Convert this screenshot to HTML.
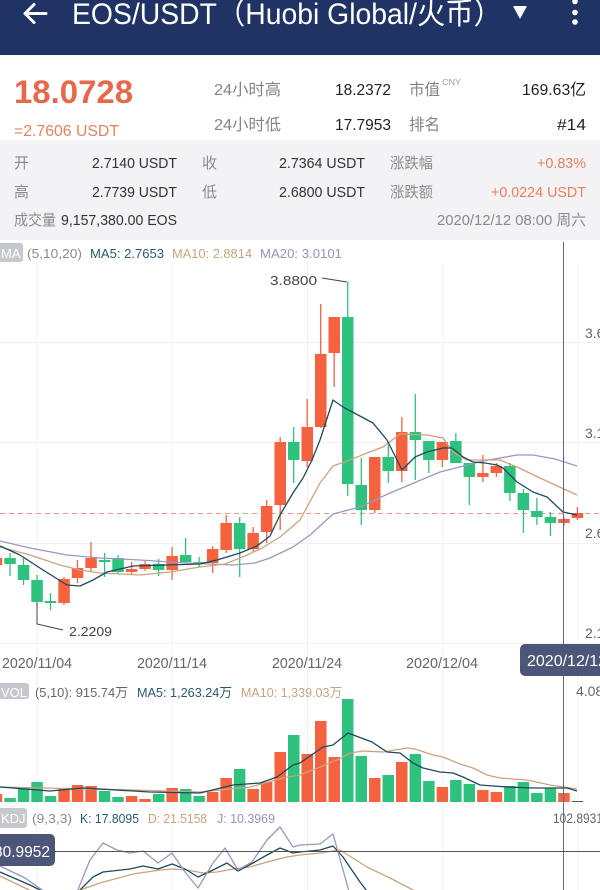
<!DOCTYPE html>
<html><head><meta charset="utf-8"><style>
html,body{margin:0;padding:0;background:#fff;}
svg{display:block;}
text{font-family:"Liberation Sans","Noto Sans CJK SC",sans-serif;}
</style></head><body>
<svg width="600" height="890" viewBox="0 0 600 890" xmlns="http://www.w3.org/2000/svg">
<!-- header -->
<rect x="0" y="0" width="600" height="55" fill="#1f3364"/>
<path d="M25 13.5 H46 M34 4.5 L25 13.5 L34 22.5" stroke="#fff" stroke-width="3" fill="none" stroke-linecap="round" stroke-linejoin="round"/>
<text x="72" y="24" font-size="30" fill="#fff" textLength="430" lengthAdjust="spacingAndGlyphs">EOS/USDT（Huobi Global/火币）</text>
<polygon points="513,6 527,6 520,19" fill="#fff"/>
<circle cx="575" cy="1.5" r="2.8" fill="#fff"/>
<circle cx="575" cy="12.5" r="2.8" fill="#fff"/>
<circle cx="575" cy="22" r="2.8" fill="#fff"/>

<!-- price block -->
<rect x="0" y="55" width="600" height="85" fill="#fff"/>
<text x="14" y="103" font-size="32" font-weight="bold" fill="#e6694b" textLength="119" lengthAdjust="spacingAndGlyphs">18.0728</text>
<text x="14" y="136" font-size="16" fill="#e8805f" textLength="105" lengthAdjust="spacingAndGlyphs">=2.7606 USDT</text>
<g font-size="16">
<text x="214" y="95" fill="#858585" textLength="67" lengthAdjust="spacingAndGlyphs">24小时高</text>
<text x="335" y="95" fill="#222" textLength="56" lengthAdjust="spacingAndGlyphs">18.2372</text>
<text x="409" y="95" fill="#858585" textLength="31" lengthAdjust="spacingAndGlyphs">市值</text>
<text x="522" y="95" fill="#222" textLength="64" lengthAdjust="spacingAndGlyphs">169.63亿</text>
<text x="214" y="130" fill="#858585" textLength="67" lengthAdjust="spacingAndGlyphs">24小时低</text>
<text x="335" y="130" fill="#222" textLength="56" lengthAdjust="spacingAndGlyphs">17.7953</text>
<text x="409" y="130" fill="#858585" textLength="31" lengthAdjust="spacingAndGlyphs">排名</text>
<text x="557" y="130" fill="#222" textLength="29" lengthAdjust="spacingAndGlyphs">#14</text>
</g>
<text x="442" y="85" font-size="8" fill="#999" textLength="19" lengthAdjust="spacingAndGlyphs">CNY</text>

<!-- gray block -->
<rect x="0" y="140" width="600" height="100" fill="#f3f3f5"/>
<g font-size="15">
<text x="14" y="168" fill="#8a8a8a">开</text>
<text x="92" y="168" fill="#333" textLength="85" lengthAdjust="spacingAndGlyphs">2.7140 USDT</text>
<text x="202" y="168" fill="#8a8a8a">收</text>
<text x="279" y="168" fill="#333" textLength="86" lengthAdjust="spacingAndGlyphs">2.7364 USDT</text>
<text x="390" y="168" fill="#8a8a8a" textLength="43" lengthAdjust="spacingAndGlyphs">涨跌幅</text>
<text x="537" y="168" fill="#e8805f" textLength="49" lengthAdjust="spacingAndGlyphs">+0.83%</text>
<text x="14" y="197" fill="#8a8a8a">高</text>
<text x="92" y="197" fill="#333" textLength="85" lengthAdjust="spacingAndGlyphs">2.7739 USDT</text>
<text x="202" y="197" fill="#8a8a8a">低</text>
<text x="279" y="197" fill="#333" textLength="86" lengthAdjust="spacingAndGlyphs">2.6800 USDT</text>
<text x="390" y="197" fill="#8a8a8a" textLength="43" lengthAdjust="spacingAndGlyphs">涨跌额</text>
<text x="491" y="197" fill="#e8805f" textLength="95" lengthAdjust="spacingAndGlyphs">+0.0224 USDT</text>
<text x="14" y="225" fill="#8a8a8a" textLength="42" lengthAdjust="spacingAndGlyphs">成交量</text>
<text x="61" y="225" fill="#333" textLength="116" lengthAdjust="spacingAndGlyphs">9,157,380.00 EOS</text>
<text x="437" y="225" fill="#8a8a8a" textLength="149" lengthAdjust="spacingAndGlyphs">2020/12/12 08:00 周六</text>
</g>

<!-- grids -->
<g stroke="#f0f0f0" stroke-width="1">
<line x1="37" y1="263" x2="37" y2="890"/>
<line x1="172" y1="263" x2="172" y2="890"/>
<line x1="307.5" y1="263" x2="307.5" y2="890"/>
<line x1="443" y1="263" x2="443" y2="890"/>
<line x1="578" y1="263" x2="578" y2="890"/>
<line x1="0" y1="342.5" x2="600" y2="342.5"/>
<line x1="0" y1="442.5" x2="600" y2="442.5"/>
<line x1="0" y1="543.5" x2="600" y2="543.5"/>
<line x1="0" y1="643.5" x2="600" y2="643.5"/>
</g>

<!-- MA legend -->
<rect x="-4" y="243" width="27" height="19" rx="3" fill="#c6c8cd"/>
<text x="1" y="258" font-size="13" fill="#fff">MA</text>
<g font-size="13">
<text x="27" y="258" fill="#8a8a8a" textLength="55" lengthAdjust="spacingAndGlyphs">(5,10,20)</text>
<text x="90" y="258" fill="#2a5a6e" textLength="74" lengthAdjust="spacingAndGlyphs">MA5: 2.7653</text>
<text x="172" y="258" fill="#c9a37c" textLength="80" lengthAdjust="spacingAndGlyphs">MA10: 2.8814</text>
<text x="260" y="258" fill="#9593bd" textLength="82" lengthAdjust="spacingAndGlyphs">MA20: 3.0101</text>
</g>

<!-- right axis labels -->
<g font-size="14" fill="#666">
<text x="585" y="338">3.6283</text>
<text x="585" y="438">3.1283</text>
<text x="585" y="538">2.6283</text>
<text x="585" y="638">2.1283</text>
<text x="576" y="696">4.08</text>
<text x="553" y="823" textLength="50" lengthAdjust="spacingAndGlyphs">102.8931</text>
</g>

<!-- date labels -->
<g font-size="15" fill="#666">
<text x="2" y="668" textLength="70" lengthAdjust="spacingAndGlyphs">2020/11/04</text>
<text x="137" y="668" textLength="70" lengthAdjust="spacingAndGlyphs">2020/11/14</text>
<text x="272" y="668" textLength="70" lengthAdjust="spacingAndGlyphs">2020/11/24</text>
<text x="406" y="668" textLength="72" lengthAdjust="spacingAndGlyphs">2020/12/04</text>
</g>

<!-- dashed current price -->
<line x1="0" y1="513.5" x2="600" y2="513.5" stroke="#e9977f" stroke-width="1" stroke-dasharray="5,4"/>

<!-- candles -->
<g id="candles">
<!-- wicks -->
<g stroke-width="1.3">
<line x1="-3.5" y1="555" x2="-3.5" y2="568" stroke="#f4623f"/>
<line x1="10" y1="553" x2="10" y2="576" stroke="#2ec27e"/>
<line x1="23.5" y1="558" x2="23.5" y2="585" stroke="#2ec27e"/>
<line x1="37" y1="575" x2="37" y2="605" stroke="#2ec27e"/>
<line x1="50.5" y1="593" x2="50.5" y2="610" stroke="#2ec27e"/>
<line x1="64" y1="577" x2="64" y2="605" stroke="#f4623f"/>
<line x1="77.5" y1="560" x2="77.5" y2="583" stroke="#f4623f"/>
<line x1="91" y1="542" x2="91" y2="572" stroke="#f4623f"/>
<line x1="104.6" y1="553" x2="104.6" y2="577" stroke="#2ec27e"/>
<line x1="118.1" y1="555" x2="118.1" y2="574" stroke="#2ec27e"/>
<line x1="131.6" y1="562" x2="131.6" y2="575" stroke="#f4623f"/>
<line x1="145.1" y1="561" x2="145.1" y2="571" stroke="#f4623f"/>
<line x1="158.6" y1="559" x2="158.6" y2="576" stroke="#2ec27e"/>
<line x1="172.1" y1="547" x2="172.1" y2="580" stroke="#f4623f"/>
<line x1="185.6" y1="538" x2="185.6" y2="562" stroke="#2ec27e"/>
<line x1="199.1" y1="557" x2="199.1" y2="567" stroke="#2ec27e"/>
<line x1="212.7" y1="546" x2="212.7" y2="573" stroke="#f4623f"/>
<line x1="226.2" y1="515" x2="226.2" y2="553" stroke="#f4623f"/>
<line x1="239.7" y1="517" x2="239.7" y2="577" stroke="#2ec27e"/>
<line x1="253.2" y1="527" x2="253.2" y2="552" stroke="#f4623f"/>
<line x1="266.7" y1="500" x2="266.7" y2="543" stroke="#f4623f"/>
<line x1="280.2" y1="437" x2="280.2" y2="530" stroke="#f4623f"/>
<line x1="293.7" y1="427" x2="293.7" y2="483" stroke="#2ec27e"/>
<line x1="307.2" y1="399" x2="307.2" y2="467" stroke="#f4623f"/>
<line x1="320.7" y1="304" x2="320.7" y2="428" stroke="#f4623f"/>
<line x1="334.2" y1="317" x2="334.2" y2="387" stroke="#f4623f"/>
<line x1="347.7" y1="282" x2="347.7" y2="496" stroke="#2ec27e"/>
<line x1="361.3" y1="458" x2="361.3" y2="525" stroke="#2ec27e"/>
<line x1="374.8" y1="457" x2="374.8" y2="513" stroke="#f4623f"/>
<line x1="388.3" y1="445" x2="388.3" y2="483" stroke="#2ec27e"/>
<line x1="401.8" y1="417" x2="401.8" y2="482" stroke="#f4623f"/>
<line x1="415.3" y1="394" x2="415.3" y2="480" stroke="#2ec27e"/>
<line x1="428.8" y1="441" x2="428.8" y2="473" stroke="#2ec27e"/>
<line x1="442.3" y1="442" x2="442.3" y2="467" stroke="#f4623f"/>
<line x1="455.8" y1="433" x2="455.8" y2="463" stroke="#2ec27e"/>
<line x1="469.3" y1="463" x2="469.3" y2="505" stroke="#2ec27e"/>
<line x1="482.9" y1="455" x2="482.9" y2="482" stroke="#f4623f"/>
<line x1="496.4" y1="463" x2="496.4" y2="477" stroke="#f4623f"/>
<line x1="509.9" y1="463" x2="509.9" y2="501" stroke="#2ec27e"/>
<line x1="523.4" y1="489" x2="523.4" y2="533" stroke="#2ec27e"/>
<line x1="536.9" y1="498" x2="536.9" y2="525" stroke="#2ec27e"/>
<line x1="550.4" y1="512" x2="550.4" y2="536" stroke="#2ec27e"/>
<line x1="563.9" y1="517" x2="563.9" y2="526" stroke="#f4623f"/>
<line x1="577.4" y1="507" x2="577.4" y2="520" stroke="#f4623f"/>
</g>
<!-- bodies -->
<rect x="-9.3" y="558" width="11.5" height="7" fill="#f4623f"/>
<rect x="4.3" y="558" width="11.5" height="6" fill="#2ec27e"/>
<rect x="17.8" y="565" width="11.5" height="15" fill="#2ec27e"/>
<rect x="31.3" y="580" width="11.5" height="22" fill="#2ec27e"/>
<rect x="44.8" y="601" width="11.5" height="2" fill="#2ec27e"/>
<rect x="58.3" y="579" width="11.5" height="24" fill="#f4623f"/>
<rect x="71.8" y="568" width="11.5" height="10" fill="#f4623f"/>
<rect x="85.3" y="558" width="11.5" height="10" fill="#f4623f"/>
<rect x="98.8" y="560" width="11.5" height="2" fill="#2ec27e"/>
<rect x="112.3" y="558" width="11.5" height="14" fill="#2ec27e"/>
<rect x="125.8" y="569" width="11.5" height="3" fill="#f4623f"/>
<rect x="139.3" y="564" width="11.5" height="5" fill="#f4623f"/>
<rect x="152.9" y="564" width="11.5" height="6" fill="#2ec27e"/>
<rect x="166.4" y="556" width="11.5" height="14" fill="#f4623f"/>
<rect x="179.9" y="555" width="11.5" height="7" fill="#2ec27e"/>
<rect x="193.4" y="562" width="11.5" height="1.5" fill="#2ec27e"/>
<rect x="206.9" y="549" width="11.5" height="14" fill="#f4623f"/>
<rect x="220.4" y="523" width="11.5" height="27" fill="#f4623f"/>
<rect x="233.9" y="523" width="11.5" height="26" fill="#2ec27e"/>
<rect x="247.4" y="533" width="11.5" height="16" fill="#f4623f"/>
<rect x="260.9" y="506" width="11.5" height="26" fill="#f4623f"/>
<rect x="274.5" y="442" width="11.5" height="63" fill="#f4623f"/>
<rect x="288" y="442" width="11.5" height="18" fill="#2ec27e"/>
<rect x="301.5" y="427" width="11.5" height="34" fill="#f4623f"/>
<rect x="315" y="354" width="11.5" height="73" fill="#f4623f"/>
<rect x="328.5" y="317" width="11.5" height="36" fill="#f4623f"/>
<rect x="342" y="317" width="11.5" height="167" fill="#2ec27e"/>
<rect x="355.5" y="485" width="11.5" height="25" fill="#2ec27e"/>
<rect x="369" y="457" width="11.5" height="53" fill="#f4623f"/>
<rect x="382.5" y="457" width="11.5" height="14" fill="#2ec27e"/>
<rect x="396" y="432" width="11.5" height="39" fill="#f4623f"/>
<rect x="409.6" y="432" width="11.5" height="8" fill="#2ec27e"/>
<rect x="423.1" y="441" width="11.5" height="19" fill="#2ec27e"/>
<rect x="436.6" y="442" width="11.5" height="18" fill="#f4623f"/>
<rect x="450.1" y="441" width="11.5" height="22" fill="#2ec27e"/>
<rect x="463.6" y="463" width="11.5" height="14" fill="#2ec27e"/>
<rect x="477.1" y="473" width="11.5" height="4" fill="#f4623f"/>
<rect x="490.6" y="466" width="11.5" height="7" fill="#f4623f"/>
<rect x="504.1" y="466" width="11.5" height="27" fill="#2ec27e"/>
<rect x="517.6" y="493" width="11.5" height="17" fill="#2ec27e"/>
<rect x="531.1" y="511" width="11.5" height="6" fill="#2ec27e"/>
<rect x="544.7" y="517" width="11.5" height="6" fill="#2ec27e"/>
<rect x="558.2" y="519" width="11.5" height="4" fill="#f4623f"/>
<rect x="571.7" y="513" width="11.5" height="5" fill="#f4623f"/>
</g>

<!-- MA lines -->
<g fill="none" stroke-width="1.3" stroke-linejoin="round">
<polyline stroke="#9a98c0" points="0,541 30,548 67,555 100,558 140,560 187,563 233,565 255,563 270,558 293,547 310,535 333,514 360,507 390,493 440,472 483,461 517,455 533,455 555,459 577,466"/>
<polyline stroke="#c9a37c" points="0,547 30,555 60,565 80,570 100,573 140,575 170,572 200,567 225,564 245,556 262,548 280,537 300,520 320,483 333,466 350,460 367,453 383,447 400,434 427,435 443,438 453,452 467,460 500,460 517,467 540,478 577,495"/>
<polyline stroke="#1d4a5c" points="0,546 20,555 43,570 67,585 80,586 93,580 107,572 133,566 167,565 200,564 217,560 240,553 257,546 270,536 280,515 293,493 303,478 312,460 320,440 333,400 343,407 373,423 387,440 402,470 415,457 427,452 443,448 452,448 463,457 473,462 485,463 497,465 503,468 517,482 533,492 547,497 563,512 577,515"/>
</g>

<!-- max / min labels -->
<polyline points="322,278 347,282" fill="none" stroke="#444" stroke-width="1"/>
<text x="270" y="285" font-size="13" fill="#444" textLength="47" lengthAdjust="spacingAndGlyphs">3.8800</text>
<polyline points="37,603 37,624 63,630" fill="none" stroke="#444" stroke-width="1"/>
<text x="69" y="636" font-size="13" fill="#444" textLength="43" lengthAdjust="spacingAndGlyphs">2.2209</text>

<!-- VOL legend -->
<rect x="-4" y="683" width="33" height="16" rx="3" fill="#c6c8cd"/>
<text x="1" y="697" font-size="13" fill="#fff">VOL</text>
<g font-size="13">
<text x="35" y="697" fill="#666" textLength="93" lengthAdjust="spacingAndGlyphs">(5,10): 915.74万</text>
<text x="137" y="697" fill="#2a5a6e" textLength="95" lengthAdjust="spacingAndGlyphs">MA5: 1,263.24万</text>
<text x="241" y="697" fill="#c9a37c" textLength="101" lengthAdjust="spacingAndGlyphs">MA10: 1,339.03万</text>
</g>

<!-- volume bars -->
<g>
<rect x="-9.3" y="794" width="11.5" height="8" fill="#f4623f"/>
<rect x="4.3" y="798" width="11.5" height="4" fill="#2ec27e"/>
<rect x="17.8" y="788" width="11.5" height="14" fill="#2ec27e"/>
<rect x="31.3" y="782" width="11.5" height="20" fill="#2ec27e"/>
<rect x="44.8" y="796" width="11.5" height="6" fill="#2ec27e"/>
<rect x="58.3" y="788" width="11.5" height="14" fill="#f4623f"/>
<rect x="71.8" y="785" width="11.5" height="17" fill="#f4623f"/>
<rect x="85.3" y="786" width="11.5" height="16" fill="#f4623f"/>
<rect x="98.8" y="791" width="11.5" height="11" fill="#2ec27e"/>
<rect x="112.3" y="797" width="11.5" height="5" fill="#2ec27e"/>
<rect x="125.8" y="796" width="11.5" height="6" fill="#f4623f"/>
<rect x="139.3" y="799" width="11.5" height="3" fill="#f4623f"/>
<rect x="152.9" y="794" width="11.5" height="8" fill="#2ec27e"/>
<rect x="166.4" y="788" width="11.5" height="14" fill="#f4623f"/>
<rect x="179.9" y="789" width="11.5" height="13" fill="#2ec27e"/>
<rect x="193.4" y="796" width="11.5" height="6" fill="#2ec27e"/>
<rect x="206.9" y="792" width="11.5" height="10" fill="#f4623f"/>
<rect x="220.4" y="778" width="11.5" height="24" fill="#f4623f"/>
<rect x="233.9" y="769" width="11.5" height="33" fill="#2ec27e"/>
<rect x="247.4" y="789" width="11.5" height="13" fill="#f4623f"/>
<rect x="260.9" y="782" width="11.5" height="20" fill="#f4623f"/>
<rect x="274.5" y="752" width="11.5" height="50" fill="#f4623f"/>
<rect x="288" y="735" width="11.5" height="67" fill="#2ec27e"/>
<rect x="301.5" y="754" width="11.5" height="48" fill="#f4623f"/>
<rect x="315" y="721" width="11.5" height="81" fill="#f4623f"/>
<rect x="328.5" y="757" width="11.5" height="45" fill="#f4623f"/>
<rect x="342" y="699" width="11.5" height="103" fill="#2ec27e"/>
<rect x="355.5" y="756" width="11.5" height="46" fill="#2ec27e"/>
<rect x="369" y="778" width="11.5" height="24" fill="#f4623f"/>
<rect x="382.5" y="775" width="11.5" height="27" fill="#2ec27e"/>
<rect x="396" y="762" width="11.5" height="40" fill="#f4623f"/>
<rect x="409.6" y="754" width="11.5" height="48" fill="#2ec27e"/>
<rect x="423.1" y="781" width="11.5" height="21" fill="#2ec27e"/>
<rect x="436.6" y="787" width="11.5" height="15" fill="#f4623f"/>
<rect x="450.1" y="780" width="11.5" height="22" fill="#2ec27e"/>
<rect x="463.6" y="784" width="11.5" height="18" fill="#2ec27e"/>
<rect x="477.1" y="790" width="11.5" height="12" fill="#f4623f"/>
<rect x="490.6" y="792" width="11.5" height="10" fill="#f4623f"/>
<rect x="504.1" y="786" width="11.5" height="16" fill="#2ec27e"/>
<rect x="517.6" y="782" width="11.5" height="20" fill="#2ec27e"/>
<rect x="531.1" y="793" width="11.5" height="9" fill="#2ec27e"/>
<rect x="544.7" y="788" width="11.5" height="14" fill="#2ec27e"/>
<rect x="558.2" y="793" width="11.5" height="9" fill="#f4623f"/>
<rect x="571.7" y="801" width="11.5" height="1" fill="#555"/>
</g>
<g fill="none" stroke-width="1.3" stroke-linejoin="round">
<polyline stroke="#c9a37c" points="0,787 133,790 200,792 250,787 283,778 300,775 320,767 337,760 350,753 363,751 383,752 407,748 415,749 433,755 443,757 460,764 473,768 487,775 500,778 527,780 550,785 577,789"/>
<polyline stroke="#1d4a5c" points="0,787 50,791 83,788 150,792 200,793 233,785 260,783 277,777 293,765 300,763 323,747 333,745 348,733 372,742 387,752 400,753 413,763 423,768 440,772 453,773 463,777 480,785 507,787 533,788 567,788 577,791"/>
</g>

<!-- KDJ legend -->
<rect x="-4" y="808" width="31" height="20" rx="3" fill="#c6c8cd"/>
<text x="1" y="823" font-size="13" fill="#fff">KDJ</text>
<g font-size="13">
<text x="32" y="823" fill="#8a8a8a" textLength="40" lengthAdjust="spacingAndGlyphs">(9,3,3)</text>
<text x="80" y="823" fill="#2a5a6e" textLength="59" lengthAdjust="spacingAndGlyphs">K: 17.8095</text>
<text x="148" y="823" fill="#c9a37c" textLength="59" lengthAdjust="spacingAndGlyphs">D: 21.5158</text>
<text x="217" y="823" fill="#9593bd" textLength="58" lengthAdjust="spacingAndGlyphs">J: 10.3969</text>
</g>

<!-- KDJ lines -->
<g fill="none" stroke-width="1.3" stroke-linejoin="round">
<polyline stroke="#c9a37c" points="0,876 25,888 40,895 75,895 80,890 100,883 133,874 160,870 173,869 187,870 203,873 217,872 233,869 250,867 267,862 287,857 300,855 320,853 340,850 367,867 390,878 417,892"/>
<polyline stroke="#1d4a5c" points="0,872 30,885 50,895 75,895 93,877 103,872 130,869 143,866 158,869 172,864 185,869 198,877 213,870 227,863 238,871 253,863 267,855 280,848 293,853 300,852 320,850 333,846 343,857 360,882 370,895"/>
<polyline stroke="#9a98b5" points="0,866 25,878 45,892 77,892 90,860 103,843 117,850 130,853 143,851 158,863 172,853 185,872 198,888 213,863 225,848 238,870 252,862 267,840 280,827 293,847 300,845 320,844 333,834 350,895"/>
</g>

<!-- crosshair -->
<line x1="563.5" y1="242" x2="563.5" y2="890" stroke="#5f6a86" stroke-width="1"/>
<line x1="50" y1="851.5" x2="600" y2="851.5" stroke="#555" stroke-width="1"/>
<rect x="-6" y="834" width="61" height="32" rx="5" fill="#4b5679"/>
<text x="-6" y="857" font-size="16" fill="#fff" textLength="56" lengthAdjust="spacingAndGlyphs">80.9952</text>
<rect x="520" y="644" width="90" height="32" rx="5" fill="#4b5679"/>
<text x="527" y="666" font-size="16" fill="#fff">2020/12/12</text>
</svg>
</body></html>
